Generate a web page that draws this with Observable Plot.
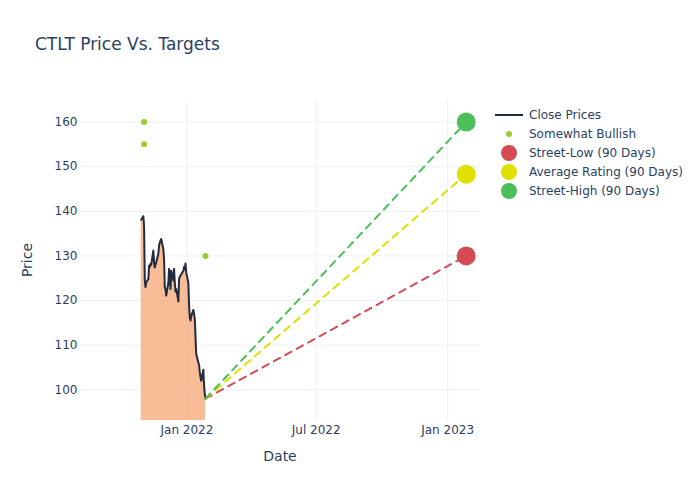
<!DOCTYPE html>
<html>
<head>
<meta charset="utf-8">
<script src="https://cdn.jsdelivr.net/npm/d3@7"></script>
<script src="https://cdn.jsdelivr.net/npm/@observablehq/plot@0.6"></script>
<style>
  html, body { margin: 0; padding: 0; background: #fff; }
  #wrap { position: relative; width: 700px; height: 500px; font-family: "DejaVu Sans", Verdana, sans-serif; color: #2a3f5f; }
  #chart { position: absolute; left: 0; top: 0; }
  #overlay { position: absolute; left: 0; top: 0; pointer-events: none; }
</style>
</head>
<body>
<div id="wrap">
  <div id="chart"></div>
  <svg id="overlay" width="700" height="500"></svg>
</div>
<script>
// ---- Data ----
const dates = ["2021-10-29","2021-11-01","2021-11-02","2021-11-03","2021-11-04","2021-11-05","2021-11-08","2021-11-09","2021-11-10","2021-11-11","2021-11-12","2021-11-15","2021-11-16","2021-11-17","2021-11-18","2021-11-19","2021-11-22","2021-11-23","2021-11-24","2021-11-26","2021-11-29","2021-11-30","2021-12-01","2021-12-02","2021-12-03","2021-12-06","2021-12-07","2021-12-08","2021-12-09","2021-12-10","2021-12-13","2021-12-14","2021-12-15","2021-12-16","2021-12-17","2021-12-20","2021-12-21","2021-12-22","2021-12-23","2021-12-27","2021-12-28","2021-12-29","2021-12-30","2021-12-31","2022-01-03","2022-01-04","2022-01-05","2022-01-06","2022-01-07","2022-01-10","2022-01-11","2022-01-12","2022-01-13","2022-01-14","2022-01-18","2022-01-19","2022-01-20","2022-01-21","2022-01-24","2022-01-25","2022-01-26","2022-01-27"];
const closePrices = [138.1,138.9,136.8,124.5,123.0,124.1,124.8,127.8,127.5,128.2,128.0,131.2,128.5,127.4,128.0,128.6,130.5,132.3,133.0,133.8,131.5,129.3,123.0,122.5,121.1,124.0,127.1,124.5,122.6,126.7,124.5,127.1,124.0,122.0,122.6,119.8,124.8,125.3,125.6,126.7,127.5,127.0,128.3,126.3,124.0,119.0,116.2,115.5,116.5,117.9,117.0,115.9,112.0,108.0,105.5,104.0,102.8,102.0,104.5,101.0,99.0,98.0];

const ratingDates = ["2021-11-02","2021-11-02","2022-01-27"];
const ratingPrices = [160,155,130];

const targetNames = ["Street-Low (90 Days)","Average Rating (90 Days)","Street-High (90 Days)"];
const targetValues = [130,148.3,160];
const targetColors = ["#d64b53","#e0e000","#4cbf5a"];
const targetDate = "2023-01-27";

const xTickDates = ["2022-01-01","2022-07-01","2023-01-01"];
const xTickLabels = ["Jan 2022","Jul 2022","Jan 2023"];
const yTicks = [100,110,120,130,140,150,160];

const xDomain = ["2021-08-05","2023-02-16"];
const yDomain = [93.12,164.82];

// ---- Build tables ----
const parse = s => new Date(s + "T00:00:00Z");
const prices = dates.map((d,i) => ({date: parse(d), close: closePrices[i]}));
const ratings = ratingDates.map((d,i) => ({date: parse(d), price: ratingPrices[i]}));
const last = prices[prices.length - 1];
const targets = targetNames.map((n,i) => ({name: n, date: parse(targetDate), price: targetValues[i], color: targetColors[i]}));
const targetLines = targets.flatMap(t => [
  {name: t.name, color: t.color, date: last.date, price: last.close},
  {name: t.name, color: t.color, date: t.date, price: t.price}
]);
const xTicksParsed = xTickDates.map(parse);
const tickLabel = new Map(xTicksParsed.map((d,i) => [+d, xTickLabels[i]]));

const gridColor = "#ebf0f8";

const chart = Plot.plot({
  width: 700,
  height: 500,
  marginLeft: 80,
  marginRight: 220,
  marginTop: 100,
  marginBottom: 80,
  style: {fontFamily: "DejaVu Sans, Verdana, sans-serif", fontSize: "12px", color: "#2a3f5f", background: "white"},
  x: {type: "utc", domain: xDomain.map(parse), ticks: xTicksParsed, tickFormat: d => tickLabel.get(+d), tickSize: 0, tickPadding: 5, label: null},
  y: {domain: yDomain, ticks: yTicks, tickSize: 0, tickPadding: 3, label: null},
  marks: [
    Plot.ruleY(yTicks, {stroke: gridColor, strokeWidth: 1}),
    Plot.ruleX(xTicksParsed, {stroke: gridColor, strokeWidth: 1}),
    Plot.areaY(prices, {x: "date", y1: yDomain[0], y2: "close", fill: "#f5a06a", fillOpacity: 0.7, curve: "linear"}),
    Plot.line(prices, {x: "date", y: "close", stroke: "#222a40", strokeWidth: 2}),
    Plot.line(targetLines, {x: "date", y: "price", z: "name", stroke: d => d.color, strokeWidth: 2, strokeDasharray: "7,6"}),
    Plot.dot(targets, {x: "date", y: "price", r: 9.5, fill: d => d.color, stroke: "none"}),
    Plot.dot(ratings, {x: "date", y: "price", r: 3, fill: "#9acd32", stroke: "none"})
  ]
});
document.getElementById("chart").appendChild(chart);

// ---- Title, axis titles, legend ----
const ov = d3.select("#overlay");
ov.append("text").attr("x", 35).attr("y", 50).attr("font-size", 17).attr("fill", "#2a3f5f").text("CTLT Price Vs. Targets");
ov.append("text").attr("x", 280).attr("y", 461).attr("text-anchor", "middle").attr("font-size", 14).attr("fill", "#2a3f5f").text("Date");
ov.append("text").attr("transform", "translate(32,260) rotate(-90)").attr("text-anchor", "middle").attr("font-size", 14).attr("fill", "#2a3f5f").text("Price");

const legendItems = [
  {label: "Close Prices", type: "line", color: "#222a40"},
  {label: "Somewhat Bullish", type: "small", color: "#9acd32"},
  ...targets.map(t => ({label: t.name, type: "big", color: t.color}))
];
const lg = ov.append("g").attr("font-size", 12).attr("fill", "#2a3f5f");
legendItems.forEach((it, i) => {
  const cy = 115 + i * 19;
  if (it.type === "line") {
    lg.append("line").attr("x1", 495).attr("x2", 523).attr("y1", cy).attr("y2", cy).attr("stroke", it.color).attr("stroke-width", 2);
  } else {
    lg.append("circle").attr("cx", 509).attr("cy", cy).attr("r", it.type === "small" ? 3 : 8).attr("fill", it.color);
  }
  lg.append("text").attr("x", 529).attr("y", cy).attr("dy", "0.35em").text(it.label);
});
</script>
</body>
</html>
